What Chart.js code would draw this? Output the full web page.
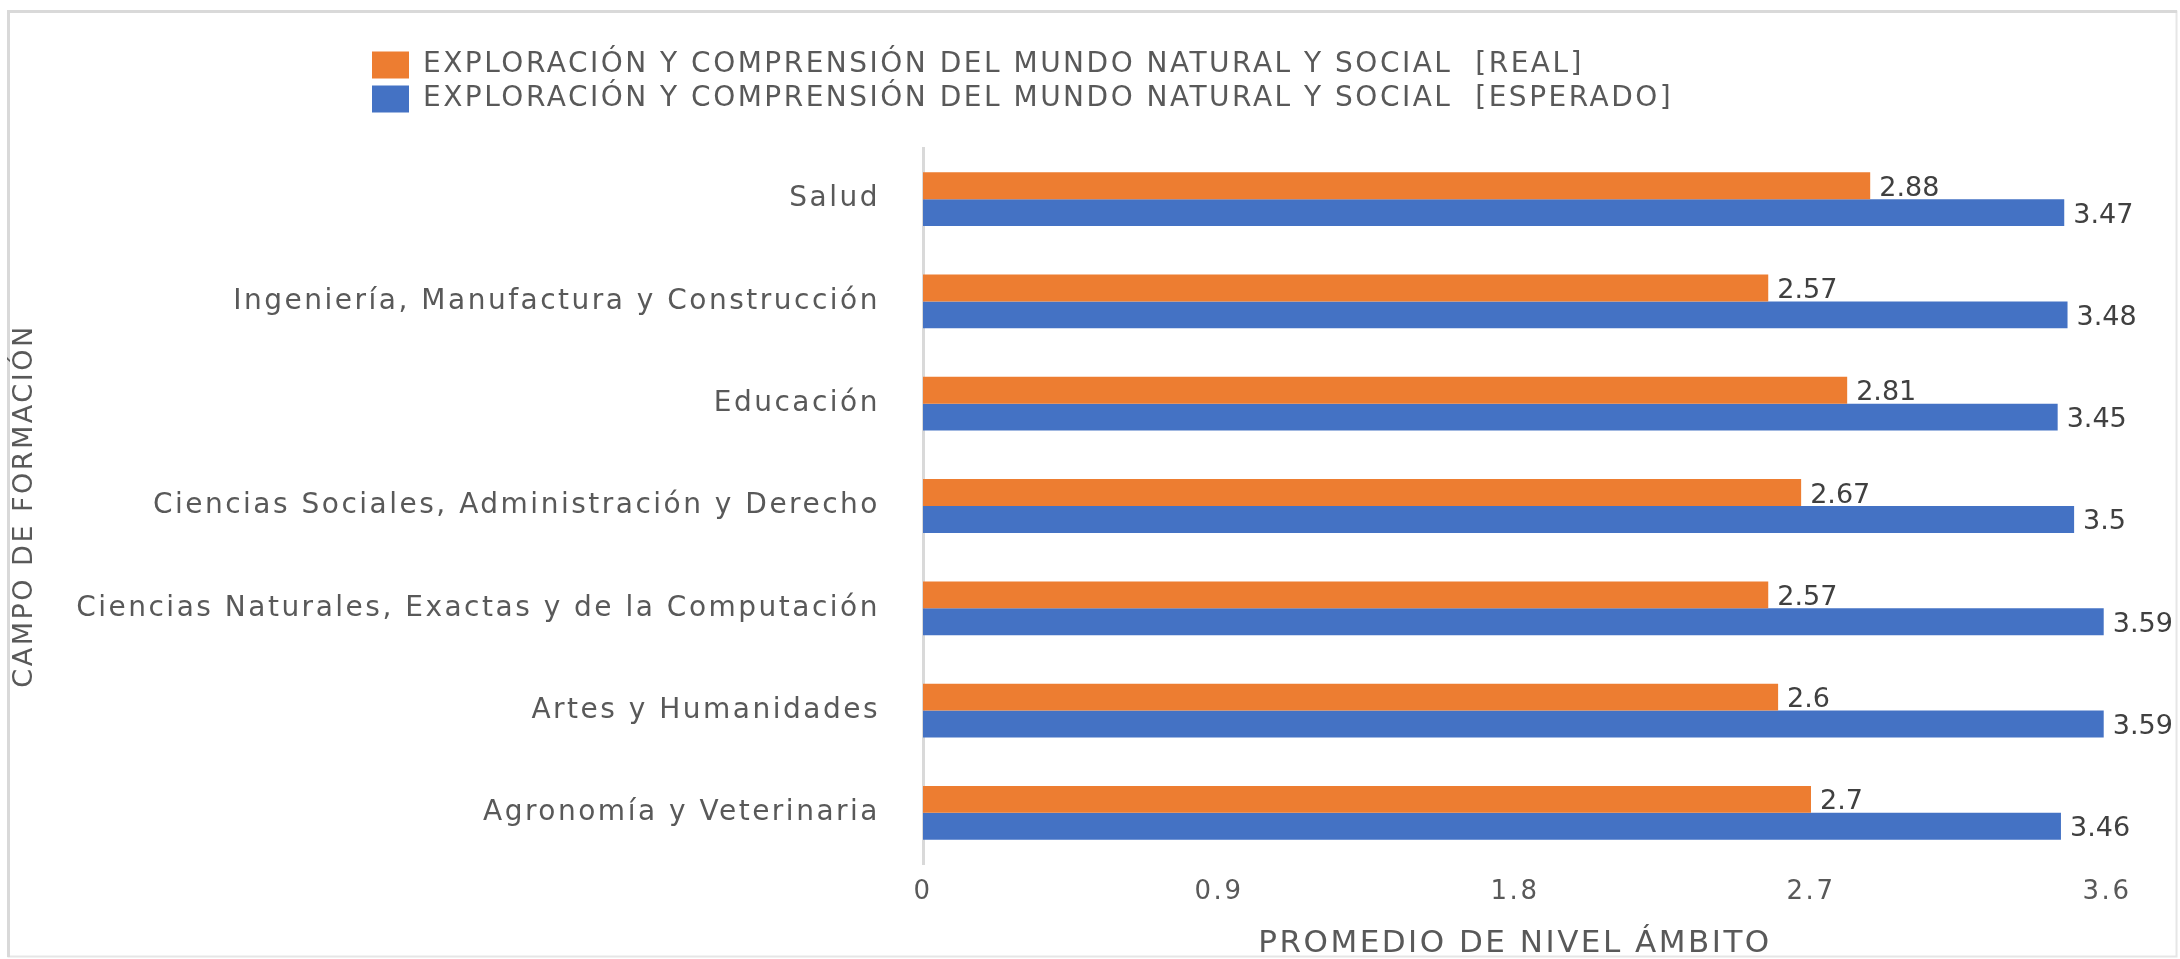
<!DOCTYPE html>
<html>
<head>
<meta charset="utf-8">
<script src="https://cdn.jsdelivr.net/npm/chart.js@4.4.1/dist/chart.umd.min.js"></script>
<style>
  html, body { margin: 0; padding: 0; background: #fff; }
</style>
</head>
<body>
<canvas id="chartBar" width="2180" height="959"></canvas>
<script>
const campos = [
  "Salud",
  "Ingeniería, Manufactura y Construcción",
  "Educación",
  "Ciencias Sociales, Administración y Derecho",
  "Ciencias Naturales, Exactas y de la Computación",
  "Artes y Humanidades",
  "Agronomía y Veterinaria",
];
const real = [2.88, 2.57, 2.81, 2.67, 2.57, 2.6, 2.7];
const esperado = [3.47, 3.48, 3.45, 3.5, 3.59, 3.59, 3.46];
const xTicks = [0, 0.9, 1.8, 2.7, 3.6];
const serieReal = "EXPLORACIÓN Y COMPRENSIÓN DEL MUNDO NATURAL Y SOCIAL  [REAL]";
const serieEsperado = "EXPLORACIÓN Y COMPRENSIÓN DEL MUNDO NATURAL Y SOCIAL  [ESPERADO]";

const FONT = "'DejaVu Sans', sans-serif";
const GREY = "#595959";
const SPACING = "2.5px";

// wide lettering, closer to the original typeface
// (set again after the canvas is sized, which clears the context state)
const spacing = {
  id: "spacing",
  afterInit(chart) {
    chart.ctx.letterSpacing = SPACING;
  },
  beforeUpdate(chart) {
    chart.ctx.letterSpacing = SPACING;
  },
  beforeDraw(chart) {
    chart.ctx.letterSpacing = SPACING;
  },
};

// light frame round the whole picture
const frame = {
  id: "frame",
  beforeDraw(chart) {
    const ctx = chart.ctx;
    ctx.save();
    ctx.fillStyle = "#fff";
    ctx.fillRect(0, 0, chart.width, chart.height);
    ctx.strokeStyle = "#e6e6e6";
    ctx.lineWidth = 2;
    ctx.strokeRect(8.5, 11.5, 2168, 945);
    ctx.strokeStyle = "#d9d9d9";
    ctx.lineWidth = 3;
    ctx.beginPath();
    ctx.moveTo(8.5, 957);
    ctx.lineTo(8.5, 11.5);
    ctx.lineTo(2177, 11.5);
    ctx.stroke();
    ctx.restore();
  },
};

// legend sits left, with space under it
const legendPlace = {
  id: "legendPlace",
  afterInit(chart) {
    const lg = chart.legend;
    const fit = lg.fit;
    lg.fit = function () {
      fit.call(this);
      this.height += 25;
    };
  },
  afterLayout(chart) {
    chart.legend.left = 366;
  },
};

// value at the end of each bar
const barLabels = {
  id: "barLabels",
  afterDatasetsDraw(chart) {
    const ctx = chart.ctx;
    ctx.save();
    ctx.letterSpacing = "0px";
    ctx.font = "27px " + FONT;
    ctx.fillStyle = "#404040";
    ctx.textAlign = "left";
    ctx.textBaseline = "middle";
    chart.data.datasets.forEach((ds, i) => {
      chart.getDatasetMeta(i).data.forEach((bar, j) => {
        ctx.fillText(String(ds.data[j]), bar.x + 9, bar.y + 3);
      });
    });
    ctx.restore();
  },
};

new Chart(document.getElementById("chartBar"), {
  type: "bar",
  data: {
    labels: campos,
    datasets: [
      {
        label: serieReal,
        data: real,
        backgroundColor: "#ED7D31",
        borderWidth: 0,
        categoryPercentage: 0.526,
        barPercentage: 1,
      },
      {
        label: serieEsperado,
        data: esperado,
        backgroundColor: "#4472C4",
        borderWidth: 0,
        categoryPercentage: 0.526,
        barPercentage: 1,
      },
    ],
  },
  plugins: [spacing, frame, legendPlace, barLabels],
  options: {
    indexAxis: "y",
    responsive: false,
    animation: false,
    devicePixelRatio: 1,
    layout: {
      padding: { top: 45, right: 73, bottom: 0, left: 0 },
    },
    scales: {
      x: {
        min: 0,
        max: 3.6,
        afterBuildTicks: (s) => {
          s.ticks = xTicks.map((v) => ({ value: v }));
        },
        afterFit: (s) => {
          s.height = 95;
        },
        border: { display: false },
        grid: { display: false, drawTicks: false },
        ticks: {
          color: GREY,
          font: { family: FONT, size: 26 },
          padding: 13,
          maxRotation: 0,
          callback: (v) => String(v),
        },
        title: {
          display: true,
          text: "PROMEDIO DE NIVEL ÁMBITO",
          color: GREY,
          font: { family: FONT, size: 31, lineHeight: 1 },
          padding: { top: 0, bottom: 0 },
        },
      },
      y: {
        afterFit: (s) => {
          s.width = 923;
        },
        border: { display: true, color: "#d9d9d9", width: 3 },
        grid: { display: true, drawOnChartArea: false, drawTicks: false, color: "rgba(0,0,0,0)" },
        ticks: {
          color: GREY,
          font: { family: FONT, size: 28 },
          padding: 43,
        },
        title: {
          display: true,
          text: "CAMPO DE FORMACIÓN",
          color: GREY,
          font: { family: FONT, size: 27, lineHeight: 1 },
          padding: { top: 11, bottom: 0 },
        },
      },
    },
    plugins: {
      legend: {
        position: "top",
        align: "start",
        labels: {
          boxWidth: 37,
          boxHeight: 27,
          padding: 6,
          color: GREY,
          font: { family: FONT, size: 28 },
        },
      },
      tooltip: { enabled: false },
    },
  },
});
</script>
</body>
</html>
